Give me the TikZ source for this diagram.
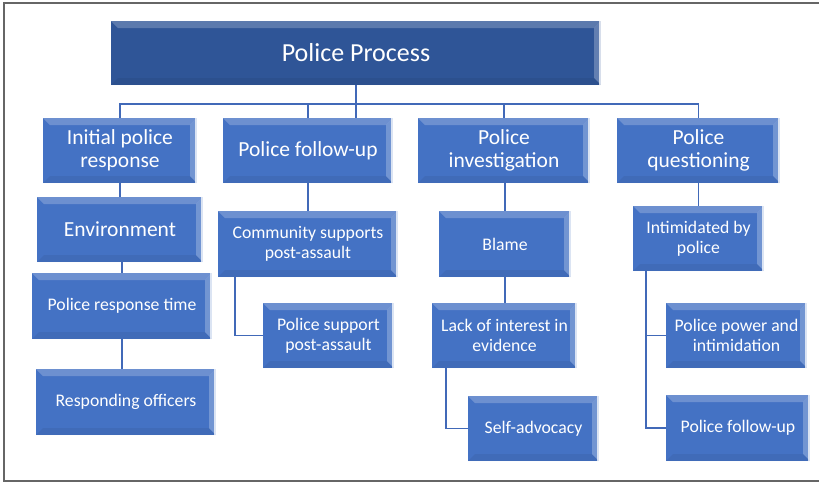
\documentclass[tikz,border=0pt]{standalone}
\usepackage{fontspec}
\setmainfont{Carlito}
\usetikzlibrary{calc,positioning}

\definecolor{boxblue}{HTML}{4472C4}
\definecolor{rootblue}{HTML}{2F5597}
\definecolor{linkblue}{HTML}{4169B8}
\definecolor{framegray}{HTML}{666666}

\tikzset{
  bevel/.style={path picture={
    % light top band, light right band, darker bottom band
    \fill[white,opacity=.22] (path picture bounding box.north west) -- (path picture bounding box.north east)
      -- ($(path picture bounding box.north east)+(-7pt,-7pt)$) -- ($(path picture bounding box.north west)+(7pt,-7pt)$) -- cycle;
    \fill[white,opacity=.25] (path picture bounding box.north east) -- (path picture bounding box.south east)
      -- ($(path picture bounding box.south east)+(-7pt,7pt)$) -- ($(path picture bounding box.north east)+(-7pt,-7pt)$) -- cycle;
    \fill[black,opacity=.06] (path picture bounding box.south west) -- (path picture bounding box.south east)
      -- ($(path picture bounding box.south east)+(-7pt,7pt)$) -- ($(path picture bounding box.south west)+(7pt,7pt)$) -- cycle;
    \fill[white,opacity=.75] ($(path picture bounding box.north east)+(-2pt,0)$) rectangle (path picture bounding box.south east);
  }},
  box/.style={bevel, fill=boxblue, text=white, align=center, inner sep=0pt,
    font=\fontsize{17.7}{20}\selectfont},
  headbox/.style={box, font=\fontsize{21.5}{23}\selectfont},
  rootbox/.style={box, fill=rootblue, font=\fontsize{26}{29}\selectfont},
  link/.style={draw=linkblue, line width=1.6pt},
}

\begin{document}
\begin{tikzpicture}[x=1pt,y=-1pt]
  \useasboundingbox (0,0) rectangle (819,483);
  \draw[framegray, line width=2pt] (819,3) -- (4,3) -- (4,481) -- (819,481);

  \node[rootbox, minimum width=490pt, minimum height=64pt] (root) at (356,53) {Police Process};

  % first row
  \node[headbox, minimum width=154pt, minimum height=65pt] (initial) at (120,150.5) {Initial police\\response};
  \node[headbox, minimum width=170pt, minimum height=65pt] (followup) at (308,150.5) {Police follow-up};
  \node[headbox, minimum width=172pt, minimum height=65pt] (investig) at (504,150.5) {Police\\investigation};
  \node[headbox, minimum width=163pt, minimum height=65pt] (question) at (698.5,150.5) {Police\\questioning};

  % under initial police response
  \node[headbox, minimum width=166pt, minimum height=65pt] (env) at (120,229.5) {Environment};
  \node[box, minimum width=180pt, minimum height=66pt] (resptime) at (122,306) {Police response time};
  \node[box, minimum width=180pt, minimum height=66pt] (officers) at (126,402) {Responding officers};

  % under police follow-up
  \node[box, minimum width=180pt, minimum height=66pt] (community) at (308,244) {Community supports\\post-assault};
  \node[box, minimum width=131pt, minimum height=65pt] (support) at (328.5,335.5) {Police support\\post-assault};

  % under police investigation
  \node[box, minimum width=132pt, minimum height=66pt] (blame) at (505,244) {Blame};
  \node[box, minimum width=145pt, minimum height=65pt] (lackint) at (504.5,335.5) {Lack of interest in\\evidence};
  \node[box, minimum width=131pt, minimum height=65pt] (selfadv) at (533.5,428.5) {Self-advocacy};

  % under police questioning
  \node[box, minimum width=131pt, minimum height=65pt] (intim) at (698.5,238.5) {Intimidated by\\police};
  \node[box, minimum width=141pt, minimum height=65pt] (power) at (736.5,335.5) {Police power and\\intimidation};
  \node[box, minimum width=144pt, minimum height=66pt] (qfollow) at (738,428) {Police follow-up};

  \coordinate (bus) at (0,104);
  \draw[link] (root.south) -- (root.south |- followup.north);
  \draw[link] (initial.north) |- (bus -| question.north) -- (question.north);
  \draw[link] (followup.north) -- (followup.north |- bus);
  \draw[link] (investig.north) -- (investig.north |- bus);

  \draw[link] (env.north |- initial.south) -- (env.north);
  \draw[link] (resptime.north |- env.south) -- (resptime.north);
  \draw[link] (resptime.south) -- (resptime.south |- officers.north);

  \draw[link] (followup.south) -- (community.north);
  \draw[link] ([xshift=17pt]community.south west) |- (support.west);

  \draw[link] (blame.north |- investig.south) -- (blame.north);
  \draw[link] (blame.south) -- (blame.south |- lackint.north);
  \draw[link] ([xshift=14pt]lackint.south west) |- (selfadv.west);

  \draw[link] (question.south) -- (intim.north);
  \draw[link] ([xshift=13pt]intim.south west) |- (power.west);
  \draw[link] ([xshift=13pt]intim.south west) |- (qfollow.west);
\end{tikzpicture}
\end{document}
